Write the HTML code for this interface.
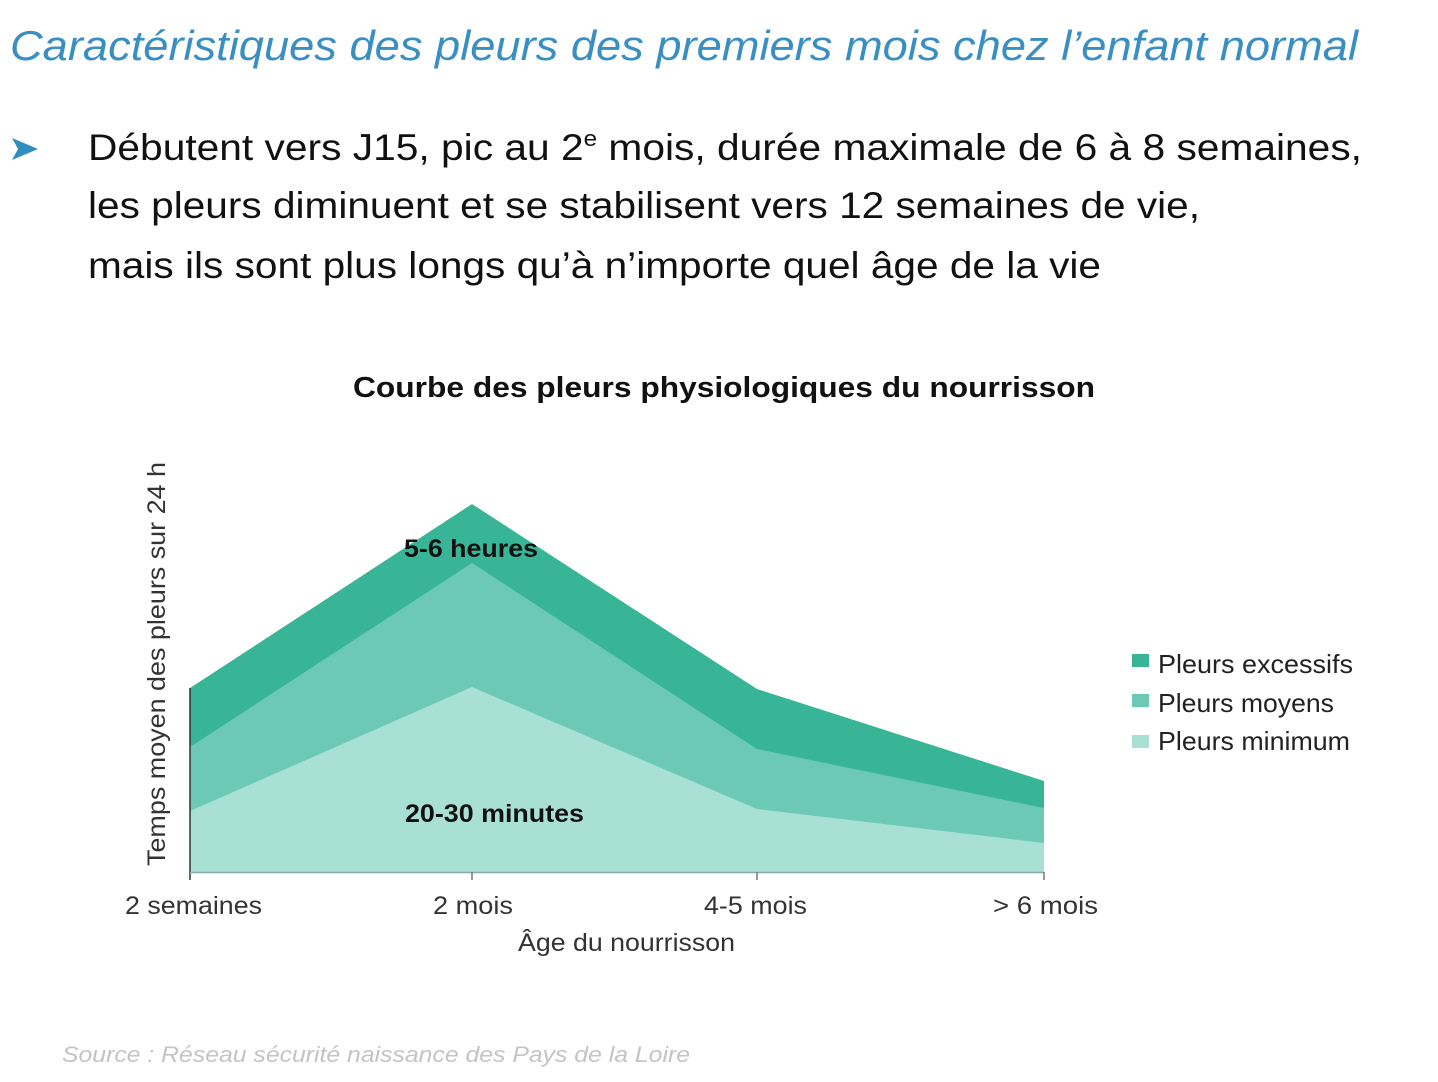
<!DOCTYPE html>
<html><head><meta charset="utf-8"><style>
html,body{margin:0;padding:0;background:#fff;}
svg{display:block;}
text{font-family:"Liberation Sans",Arial,sans-serif;}
</style></head><body>
<svg width="1438" height="1082" viewBox="0 0 1438 1082" xmlns="http://www.w3.org/2000/svg">
<text x="10" y="60" font-size="42" font-style="italic" fill="#3a8fc2" textLength="1348" lengthAdjust="spacingAndGlyphs">Caractéristiques des pleurs des premiers mois chez l’enfant normal</text>
<polygon points="12,138 38,149 12,160 18,149" fill="#2f8dbf"/>
<text x="88" y="160" font-size="37" fill="#111" textLength="1274" lengthAdjust="spacingAndGlyphs">Débutent vers J15, pic au 2<tspan font-size="22" dy="-14">e</tspan><tspan dy="14"> mois, durée maximale de 6 à 8 semaines,</tspan></text>
<text x="88" y="218" font-size="37" fill="#111" textLength="1112" lengthAdjust="spacingAndGlyphs">les pleurs diminuent et se stabilisent vers 12 semaines de vie,</text>
<text x="88" y="278" font-size="37" fill="#111" textLength="1013" lengthAdjust="spacingAndGlyphs">mais ils sont plus longs qu’à n’importe quel âge de la vie</text>
<text x="353" y="397" font-size="29" font-weight="bold" fill="#111" textLength="742" lengthAdjust="spacingAndGlyphs">Courbe des pleurs physiologiques du nourrisson</text>
<polygon points="190,688 472,504 757,689 1044,781 1044,872 190,872" fill="#38b597"/>
<polygon points="190,747 472,563 757,749 1044,808 1044,872 190,872" fill="#6bc9b5"/>
<polygon points="190,811 472,687 757,809 1044,843 1044,872 190,872" fill="#a9e0d4"/>
<line x1="190" y1="688" x2="190" y2="880" stroke="#333" stroke-width="1.5"/>
<line x1="190" y1="872.5" x2="1044" y2="872.5" stroke="#8aa" stroke-width="1.5"/>
<line x1="472" y1="872" x2="472" y2="880" stroke="#777" stroke-width="1.5"/>
<line x1="757" y1="872" x2="757" y2="880" stroke="#777" stroke-width="1.5"/>
<line x1="1044" y1="872" x2="1044" y2="880" stroke="#777" stroke-width="1.5"/>
<text x="404" y="557" font-size="25" font-weight="bold" fill="#111" textLength="134" lengthAdjust="spacingAndGlyphs">5-6 heures</text>
<text x="405" y="822" font-size="25" font-weight="bold" fill="#111" textLength="179" lengthAdjust="spacingAndGlyphs">20-30 minutes</text>
<text transform="translate(165,866) rotate(-90)" x="0" y="0" font-size="25" fill="#333" textLength="404" lengthAdjust="spacingAndGlyphs">Temps moyen des pleurs sur 24 h</text>
<text x="125" y="914" font-size="25" fill="#333" textLength="137" lengthAdjust="spacingAndGlyphs">2 semaines</text>
<text x="433" y="914" font-size="25" fill="#333" textLength="80" lengthAdjust="spacingAndGlyphs">2 mois</text>
<text x="704" y="914" font-size="25" fill="#333" textLength="103" lengthAdjust="spacingAndGlyphs">4-5 mois</text>
<text x="993" y="914" font-size="25" fill="#333" textLength="105" lengthAdjust="spacingAndGlyphs">&gt; 6 mois</text>
<text x="518" y="951" font-size="25" fill="#333" textLength="217" lengthAdjust="spacingAndGlyphs">Âge du nourrisson</text>
<rect x="1132" y="654" width="17" height="13" fill="#38b597"/>
<rect x="1132" y="694" width="17" height="13" fill="#6bc9b5"/>
<rect x="1132" y="735" width="17" height="13" fill="#a9e0d4"/>
<text x="1158" y="673" font-size="26" fill="#222" textLength="195" lengthAdjust="spacingAndGlyphs">Pleurs excessifs</text>
<text x="1158" y="712" font-size="26" fill="#222" textLength="176" lengthAdjust="spacingAndGlyphs">Pleurs moyens</text>
<text x="1158" y="750" font-size="26" fill="#222" textLength="192" lengthAdjust="spacingAndGlyphs">Pleurs minimum</text>
<text x="62" y="1062" font-size="22" font-style="italic" fill="#c4c4c4" textLength="628" lengthAdjust="spacingAndGlyphs">Source : Réseau sécurité naissance des Pays de la Loire</text>
</svg>
</body></html>
